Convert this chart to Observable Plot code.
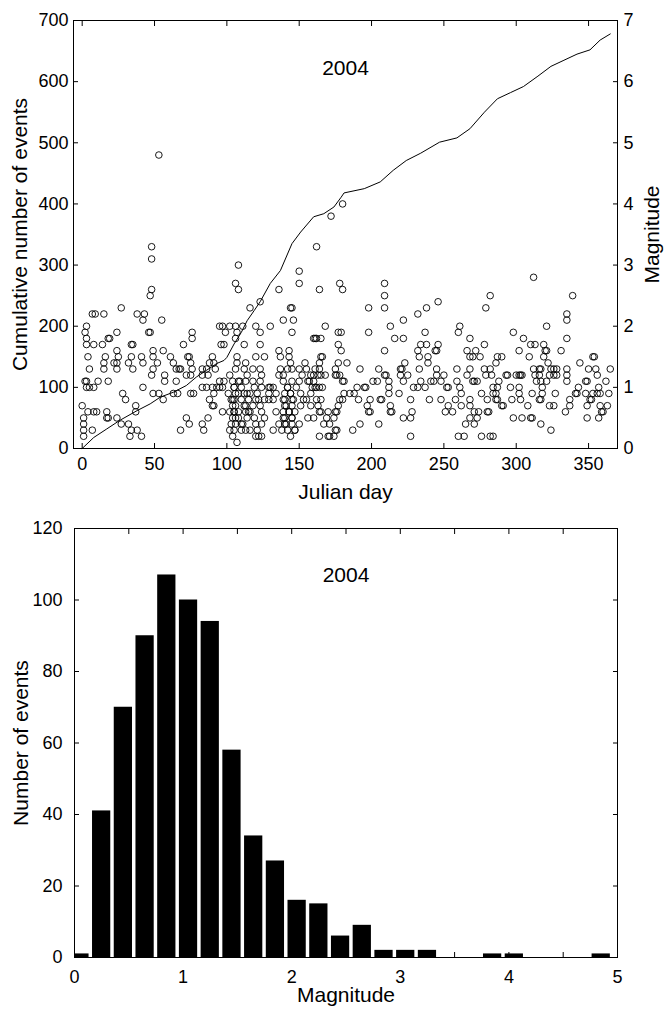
<!DOCTYPE html>
<html><head><meta charset="utf-8">
<script src="https://cdn.jsdelivr.net/npm/d3@7"></script>
<script src="https://cdn.jsdelivr.net/npm/@observablehq/plot@0.6"></script>
<style>
body{margin:0;background:#fff;}
#wrap{width:664px;}
#wrap svg{display:block;}
</style></head><body><div id="wrap"></div>
<script>
// ---------- data ----------
// scatter: [Julian day, magnitude]
const events = [
[27,2.3],[7,2.2],[9,2.2],[15,2.2],[38,2.2],[43,2.2],[42,2.1],[55,2.1],[95,2.0],[3,2.0],[2,1.9],[24,1.9],[46,1.9],[47,1.9],[76,1.9],[76,1.8],[3,1.8],[3,1.7],[8,1.7],[14,1.7],[18,1.8],[19,1.8],[70,1.7],[34,1.7],[35,1.7],[34,1.5],[96,1.7],[4,1.5],[16,1.5],[24,1.6],[25,1.5],[24,1.4],[41,1.5],[49,1.6],[56,1.6],[5,1.3],[15,1.4],[15,1.3],[22,1.4],[24,1.3],[32,1.4],[35,1.3],[42,1.4],[49,1.5],[49,1.3],[52,1.4],[61,1.5],[63,1.4],[65,1.3],[67,1.3],[68,1.3],[73,1.5],[74,1.5],[75,1.4],[76,1.3],[83,1.3],[86,1.3],[88,1.4],[92,1.3],[48,1.2],[57,1.2],[72,1.2],[83,1.2],[87,1.2],[95,1.1],[2,1.1],[3,1.1],[11,1.1],[18,1.1],[57,1.1],[65,1.1],[75,1.2],[3,1.0],[5,1.0],[8,1.0],[28,0.9],[30,0.8],[42,1.0],[49,0.9],[53,0.9],[56,0.8],[63,0.9],[66,0.9],[75,0.9],[77,0.9],[83,1.0],[86,1.0],[90,1.0],[93,1.0],[91,0.9],[88,0.8],[90,0.7],[91,0.7],[0,0.7],[4,0.6],[8,0.6],[10,0.6],[17,0.6],[17,0.5],[18,0.5],[37,0.7],[37,0.6],[1,0.5],[1,0.4],[1,0.3],[7,0.3],[1,0.2],[24,0.5],[27,0.4],[32,0.4],[34,0.3],[38,0.3],[41,0.2],[33,0.2],[72,0.5],[74,0.4],[83,0.4],[84,0.3],[87,0.5],[68,0.3],
[53,4.8],[48,3.3],[48,3.1],[48,2.6],[47,2.5],[97,1.0],[95,1.0],[97,0.6],[90,1.5],[91,1.4],
[108,3.0],[106,2.7],[108,2.6],[116,2.3],[123,2.4],[144,2.3],[145,2.3],[139,2.1],[146,2.1],[130,2.0],[120,2.0],[97,2.0],[102,2.0],[106,2.0],[111,2.0],[99,1.9],[107,1.9],[123,1.9],[145,1.9],[168,2.0],[98,1.7],[106,1.8],[112,1.7],[123,1.7],[160,1.8],[162,1.8],[177,1.9],[177,1.7],
[136,2.6],[150,2.9],[150,2.7],[162,3.3],[164,2.6],[172,3.8],[180,4.0],
[107,1.5],[107,1.4],[113,1.4],[126,1.5],[120,1.5],[136,1.6],[143,1.6],[137,1.5],[143,1.5],[144,1.4],[154,1.4],[164,1.4],[164,1.3],[177,1.4],
[106,1.3],[112,1.3],[118,1.3],[123,1.3],[137,1.3],[142,1.3],[145,1.3],[150,1.3],[155,1.3],[161,1.3],[168,1.2],
[102,1.2],[114,1.2],[124,1.2],[136,1.2],[139,1.2],[152,1.2],[158,1.2],[163,1.2],[175,1.2],
[98,1.1],[104,1.1],[108,1.1],[113,1.1],[118,1.1],[123,1.1],[139,1.1],[145,1.1],[150,1.1],[156,1.1],
[105,1.0],[110,1.0],[119,1.0],[124,1.0],[129,1.0],[130,1.0],[132,1.0],[142,1.0],[148,1.0],[159,1.0],[161,1.0],[164,1.0],
[101,0.9],[106,0.9],[112,0.9],[116,0.9],[121,0.9],[129,0.9],[134,0.9],[140,0.9],[144,0.9],[151,0.9],[158,0.9],
[103,0.8],[105,0.8],[110,0.8],[115,0.8],[120,0.8],[122,0.8],[126,0.8],[129,0.8],[132,0.8],[139,0.8],[145,0.8],[153,0.8],[155,0.8],
[104,0.7],[106,0.7],[112,0.7],[118,0.7],[123,0.7],[140,0.7],[145,0.7],[151,0.7],[158,0.7],[164,0.6],
[102,0.6],[105,0.6],[108,0.6],[113,0.6],[116,0.6],[124,0.6],[134,0.6],[139,0.6],[143,0.6],[147,0.6],[170,0.6],[175,0.6],
[104,0.5],[108,0.5],[114,0.5],[119,0.5],[126,0.5],[140,0.5],[145,0.5],[156,0.5],[169,0.5],[174,0.5],
[103,0.4],[106,0.4],[111,0.4],[120,0.4],[124,0.4],[136,0.4],[140,0.4],[145,0.4],[150,0.4],[167,0.4],[171,0.4],
[102,0.3],[105,0.3],[110,0.3],[113,0.3],[116,0.3],[121,0.3],[132,0.3],[138,0.3],[142,0.3],[147,0.3],
[104,0.2],[120,0.2],[122,0.2],[124,0.2],[144,0.2],[164,0.2],[170,0.2],[174,0.2],[107,0.1],
[104,0.8],[105,0.6],[106,0.5],[108,0.9],[110,0.4],[113,0.7],[114,0.9],[115,0.6],[139,0.5],[140,0.8],[141,0.4],[143,0.6],[144,0.9],[145,0.5],[146,0.8],[147,0.3],[141,0.7],[142,1.0],[105,1.0],[109,1.1],
[160,1.2],[165,1.2],[157,1.1],[160,1.1],[162,1.0],[166,1.0],[162,0.8],[165,0.8],[163,0.7],[160,0.5],[165,0.6],[165,1.5],[166,1.5],[161,1.8],[165,1.8],[171,0.2],[176,0.3],
[178,2.7],[180,2.6],[179,1.9],[179,1.6],[180,1.1],[181,1.1],[175,1.3],[176,1.2],[178,1.2],[183,1.4],[181,0.9],[180,0.8],[178,0.8],[177,0.7],[175,0.3],[176,0.6],
[187,0.3],[185,0.9],[188,0.9],[192,0.4],[190,1.0],[191,0.8],[192,1.3],[195,1.0],[196,1.0],[197,0.7],[198,0.6],[199,0.6],[198,2.3],[198,1.9],[199,0.8],
[201,1.1],[204,1.1],[205,1.3],[205,0.4],[206,0.8],[207,0.8],[209,1.2],[209,2.7],[209,2.5],[209,2.3],[209,1.6],[210,1.2],[212,1.1],[212,1.0],[212,0.9],[213,2.0],[213,0.6],[213,0.7],[214,0.6],
[216,1.8],[219,0.9],[220,1.2],[220,1.3],[221,1.3],[222,2.1],[222,1.8],[222,0.5],[222,1.1],[223,1.4],[225,1.2],[227,0.8],[228,0.6],[227,0.5],[227,0.2],
[229,1.0],[232,1.0],[232,2.2],[232,1.6],[233,1.5],[233,1.3],[234,1.1],[234,1.7],[237,1.9],[237,1.0],[238,2.3],[238,1.7],[239,1.5],[239,1.4],
[240,0.8],[241,1.1],[243,1.1],[244,1.6],[245,1.6],[245,1.2],[245,1.3],[246,1.7],[246,2.4],[248,1.1],[248,0.8],[250,1.2],
[251,0.6],[252,1.0],[253,1.0],[253,0.7],[256,0.6],[259,1.3],[259,1.1],[258,0.8],[260,1.9],[261,2.0],[261,1.0],[262,0.9],[262,0.7],[260,0.2],[264,0.2],[265,0.4],
[266,1.6],[268,1.8],[268,1.5],[270,1.5],[266,1.2],[268,1.3],[270,1.1],[271,1.1],[273,1.1],[268,0.8],[268,0.7],[268,0.5],[271,0.6],[271,0.4],[272,1.6],[273,0.5],[274,0.6],[275,1.5],
[276,0.2],[276,0.9],[278,1.3],[278,1.7],[279,2.3],[279,1.2],[280,0.6],[281,0.6],[280,0.8],[282,2.5],[282,0.2],[284,0.2],[282,1.3],[283,1.2],[284,0.9],[286,0.9],[284,1.0],[287,1.0],[286,0.8],[287,0.8],[286,1.4],[287,1.5],[290,1.5],[288,1.1],[290,0.7],[291,0.7],
[293,1.2],[294,1.2],[296,1.0],[297,0.8],[298,1.9],[298,0.5],[300,1.2],[302,1.2],[302,1.6],[302,1.0],[303,1.2],[304,1.2],[302,0.9],[303,0.8],[304,0.5],[305,1.8],[308,0.7],[309,1.5],[310,1.7],[310,0.5],[311,0.5],[312,2.8],[313,1.7],[311,0.9],
[312,1.3],[313,1.2],[314,1.1],[316,1.3],[316,1.2],[317,1.3],[317,1.1],[316,0.8],[317,0.8],[317,0.4],[318,0.9],[318,1.0],[319,1.7],[319,1.5],[320,1.6],[321,2.0],[321,1.6],[322,1.4],[323,1.2],[324,1.3],[321,1.1],[323,0.7],[324,0.3],[326,0.7],[326,1.3],[326,1.2],[328,1.2],[328,1.3],[327,0.9],[331,1.6],
[334,0.6],[335,2.2],[335,2.1],[335,1.8],[335,1.2],[335,1.3],[335,1.1],[337,0.8],[337,0.7],[339,2.5],[341,0.9],[342,0.9],[343,1.0],[344,1.4],[348,1.1],[349,1.1],[348,0.9],[349,0.7],[349,0.5],[350,1.3],[351,0.8],[352,0.8],[353,1.5],[354,1.5],[355,1.3],[356,1.2],[353,0.9],[356,0.9],[357,1.0],[358,0.9],[357,0.5],[358,0.7],[359,0.6],[360,0.6],[362,1.1],[363,0.7],[364,0.9],[365,1.3]
];

// cumulative number of events
const cumDay   = [0,8,17,26,38,47,54,63,72,79,86,93,98,100,105,110,114,119,123,130,137,145,151,160,167,174,179,181,195,206,215,224,234,247,259,268,278,287,296,305,315,324,333,342,351,358,365];
const cumCount = [0,18,32,46,62,73,84,92,103,117,128,139,144,149,171,190,209,226,240,270,291,335,354,379,384,395,411,418,425,436,455,471,483,501,508,523,550,572,582,592,609,625,635,645,652,668,678];

// histogram
const binCenters = [0.05,0.25,0.45,0.65,0.85,1.05,1.25,1.45,1.65,1.85,2.05,2.25,2.45,2.65,2.85,3.05,3.25,3.45,3.65,3.85,4.05,4.25,4.45,4.65,4.85];
const binCounts  = [1,41,70,90,107,100,94,58,34,27,16,15,6,9,2,2,2,0,0,1,1,0,0,0,1];

// ticks
const dayTicks   = [0,50,100,150,200,250,300,350];
const countTicks = [0,100,200,300,400,500,600,700];
const magTicks   = [0,1,2,3,4,5,6,7];
const histXTicks = [0,0.5,1,1.5,2,2.5,3,3.5,4,4.5,5];
const histYTicks = [0,20,40,60,80,100,120];

// ---------- drawing ----------
const MAGSCALE = 100;     // right axis: magnitude shares the left axis (700 <-> 7)
const HALF = 0.084;       // half bar width
const FONT = "'Liberation Sans', Arial, Helvetica, sans-serif";
const LABEL = 21;
const style = {fontFamily: FONT, fontSize: "18px", color: "black", background: "white", overflow: "visible"};
const blank = () => "";
const lbl = {textAnchor: "middle", lineAnchor: "middle", fontSize: LABEL};

const cum = cumDay.map((d, i) => ({day: d, n: cumCount[i]}));
const hist = binCenters.map((c, i) => ({c, n: binCounts[i]}));

const chart1 = Plot.plot({
  width: 664, height: 505,
  marginTop: 20, marginBottom: 57, marginLeft: 73, marginRight: 47,
  style,
  x: {domain: [-6, 370]},
  y: {domain: [0, 700]},
  marks: [
    Plot.dot(events, {x: d => d[0], y: d => d[1] * MAGSCALE, r: 3.3, stroke: "black", strokeWidth: 0.9, fill: "none"}),
    Plot.line(cum, {x: "day", y: "n", stroke: "black", strokeWidth: 1}),
    Plot.axisX(dayTicks, {anchor: "bottom", tickSize: 0, tickPadding: 8.7, label: null}),
    Plot.axisX(dayTicks, {anchor: "bottom", tickSize: -5, tickFormat: blank, label: null}),
    Plot.axisX(dayTicks, {anchor: "top", tickSize: -5, tickFormat: blank, label: null}),
    Plot.axisY(countTicks, {anchor: "left", tickSize: 0, tickPadding: 5, label: null}),
    Plot.axisY(countTicks, {anchor: "left", tickSize: -5, tickFormat: blank, label: null}),
    Plot.axisY(magTicks.map(m => m * MAGSCALE), {anchor: "right", tickSize: 0, tickPadding: 6, tickFormat: d => d / MAGSCALE, label: null}),
    Plot.axisY(magTicks.map(m => m * MAGSCALE), {anchor: "right", tickSize: -5, tickFormat: blank, label: null}),
    Plot.text(["2004"], {frameAnchor: "top", dy: 48, ...lbl}),
    Plot.text(["Cumulative number of events"], {frameAnchor: "left", dx: -53, rotate: -90, ...lbl}),
    Plot.text(["Magnitude"], {frameAnchor: "right", dx: 35, rotate: -90, ...lbl}),
    Plot.text(["Julian day"], {frameAnchor: "bottom", dy: 44, ...lbl}),
    Plot.frame({stroke: "black", strokeWidth: 1})
  ]
});

const chart2 = Plot.plot({
  width: 664, height: 505,
  marginTop: 23, marginBottom: 53, marginLeft: 74, marginRight: 47,
  style,
  x: {domain: [0, 5]},
  y: {domain: [0, 120]},
  marks: [
    Plot.rectY(hist, {x1: d => d.c - HALF, x2: d => d.c + HALF, y: "n", fill: "black", clip: true}),
    Plot.axisX(histXTicks, {anchor: "bottom", tickSize: 0, tickPadding: 13, tickFormat: d => Number.isInteger(d) ? d : "", label: null}),
    Plot.axisX(histXTicks, {anchor: "bottom", tickSize: -5, tickFormat: blank, label: null}),
    Plot.axisX(histXTicks, {anchor: "top", tickSize: -5, tickFormat: blank, label: null}),
    Plot.axisY(histYTicks, {anchor: "left", tickSize: 0, tickPadding: 12, label: null}),
    Plot.axisY(histYTicks, {anchor: "left", tickSize: -5, tickFormat: blank, label: null}),
    Plot.axisY(histYTicks, {anchor: "right", tickSize: -5, tickFormat: blank, label: null}),
    Plot.text(["2004"], {frameAnchor: "top", dy: 47, ...lbl}),
    Plot.text(["Number of events"], {frameAnchor: "left", dx: -53, rotate: -90, ...lbl}),
    Plot.text(["Magnitude"], {frameAnchor: "bottom", dy: 38, ...lbl}),
    Plot.frame({stroke: "black", strokeWidth: 1})
  ]
});

const wrap = document.getElementById("wrap");
wrap.appendChild(chart1);
wrap.appendChild(chart2);
</script>
</body></html>
